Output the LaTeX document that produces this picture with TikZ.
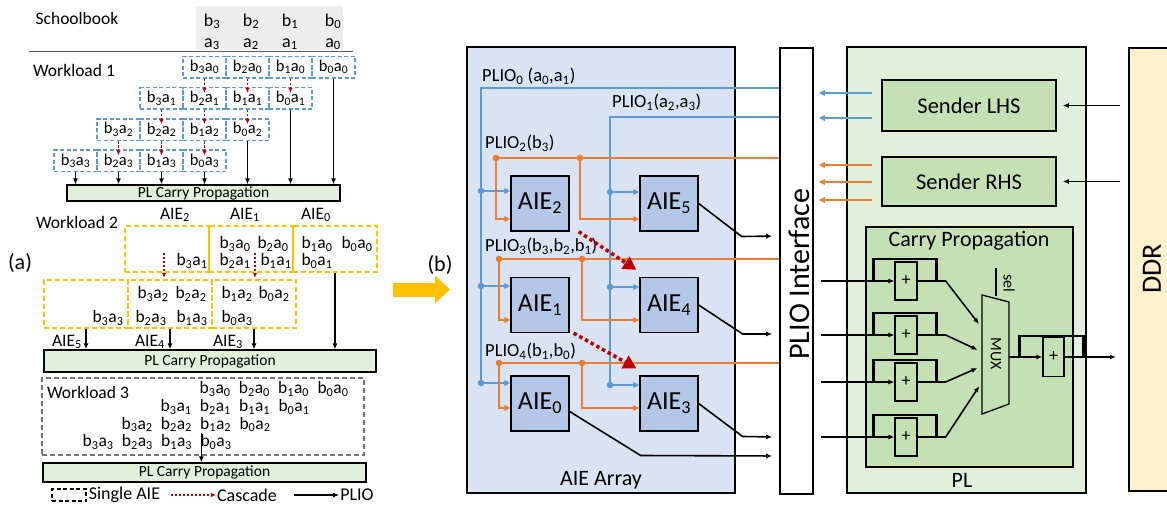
\documentclass[tikz,border=0pt]{standalone}
\usepackage{fontspec}
\setmainfont{Carlito}
\usetikzlibrary{arrows.meta,positioning,calc}
\newdimen\unitsize
\setlength{\unitsize}{1pt}
\definecolor{aiearr}{HTML}{DAE3F3}
\definecolor{aiebox}{HTML}{B4C7E7}
\definecolor{plblue}{HTML}{5B9BD5}
\definecolor{plorange}{HTML}{ED7D31}
\definecolor{plgreen}{HTML}{E2EFDA}
\definecolor{sndgreen}{HTML}{C5E0B4}
\definecolor{ddrcol}{HTML}{FFF2CC}
\definecolor{gold}{HTML}{FFC000}
\definecolor{cascred}{HTML}{C00000}
\definecolor{greybg}{HTML}{EDEDED}
\newcommand{\bterm}[2]{b\textsubscript{#1}a\textsubscript{#2}}
\newcommand{\aie}[1]{AIE\textsubscript{#1}}
\newcommand{\fs}[1]{\fontsize{#1}{#1}\selectfont}

\begin{document}
\begin{tikzpicture}[x=\unitsize,y=-\unitsize]
\tikzset{cell/.style={draw=plblue, dash pattern=on 4pt off 2.5pt, line width=1.5pt, minimum width=43pt, minimum height=21.5pt, inner sep=0pt, font=\fs{16.5}}}%
\tikzset{wlbox/.style={draw=gold, dash pattern=on 5pt off 3pt, line width=1.6pt, minimum width=84pt, inner sep=0pt}}%
\tikzset{term/.style={inner sep=1pt, font=\fs{17.5}}}%
\tikzset{lbl/.style={inner sep=0pt, font=\fs{17.5}}}%
\tikzset{plbar/.style={draw, fill=plgreen, line width=1.3pt, inner sep=0pt, font=\fs{15.5}}}%
\tikzset{casc/.style={cascred, dash pattern=on 2.5pt off 1.5pt, line width=1.3pt, -{Latex[length=5pt,width=4.5pt]}}}%
\tikzset{plio/.style={line width=1.6pt, -{Latex[length=6pt,width=5pt]}}}%
\tikzset{aie/.style={draw, fill=aiebox, line width=1.3pt, minimum width=58pt, minimum height=55pt, inner sep=0pt, font=\fs{26}}}%
\tikzset{bluewire/.style={plblue, line width=2.2pt}}%
\tikzset{orwire/.style={plorange, line width=2.2pt}}%
\tikzset{wtip/.style={-{Triangle[length=6pt,width=5.5pt]}}}%
\tikzset{cascdot/.style={cascred, line width=3.5pt, dash pattern=on 3.5pt off 3pt, -{Triangle[length=13pt,width=14pt]}}}%
\tikzset{greenbox/.style={draw, fill=sndgreen, line width=1.6pt, inner sep=0pt, font=\fs{22.5}}}%
\tikzset{adder/.style={draw, fill=sndgreen, line width=1.3pt, minimum width=22pt, minimum height=38pt, inner sep=0pt, font=\fs{18}}}%
\tikzset{fb/.style={line width=2.8pt}}%
\useasboundingbox (0,0) rectangle (1167,506);

%% (a) workloads
\node[fill=greybg, minimum width=147pt, minimum height=44pt] (school) at (269.5,28) {};
\draw[black!65, line width=1pt] (29,51) -- (353,51);
\node[lbl] (schooltxt) at (77,18) {Schoolbook};
\foreach \b/\x in {3/212,2/251,1/290,0/333}{
  \node[lbl, anchor=base, font=\fs{18}] (sb\b) at (\x,26) {b\textsubscript{\b}};
  \node[lbl, anchor=base, font=\fs{18}] (sa\b) at (\x,47) {a\textsubscript{\b}};
}

\node[lbl] (wl1txt) at (74,70) {Workload 1};
\foreach \r in {0,...,3}{
  \foreach \c [evaluate=\c as \b using int(3-\c)] in {0,...,3}{
    \node[cell] (w1-\r-\c) at ({204.5+43*\c-43*\r},{67+31.3*\r}) {\bterm{\b}{\r}};
  }
}
\node[plbar, minimum width=273pt, minimum height=16pt] (pl1) at (203.5,193) {PL Carry Propagation};
\foreach \r [evaluate=\r as \rn using int(\r+1)] in {0,1,2}{
  \foreach \c [evaluate=\c as \cn using int(\c+1)] in {0,1,2}{
    \draw[casc] (w1-\r-\c.south) -- ([yshift=-6pt]w1-\rn-\cn.north);
  }
}
\foreach \r/\c in {0/3,1/3,2/3,3/0,3/1,3/2,3/3}{
  \draw[plio] (w1-\r-\c.south) -- (w1-\r-\c.south |- pl1.north);
}

\node[lbl] (wl2txt) at (77,222) {Workload 2};
\node[wlbox, minimum height=46pt] (wl2aie2) at (167,249) {};
\node[wlbox, minimum height=46pt] (wl2aie1) at (251,249) {};
\node[wlbox, minimum height=46pt] (wl2aie0) at (335,249) {};
\node[wlbox, minimum height=48pt] (wl2aie5) at (86,304) {};
\node[wlbox, minimum height=48pt] (wl2aie4) at (170,304) {};
\node[wlbox, minimum height=48pt] (wl2aie3) at (254,304) {};
\node[lbl] (l2aie2) at (175,215) {\aie{2}};
\node[lbl] (l2aie1) at (245,215) {\aie{1}};
\node[lbl] (l2aie0) at (316,215) {\aie{0}};
\node[lbl] (l2aie5) at (67,342) {\aie{5}};
\node[lbl] (l2aie4) at (150,342) {\aie{4}};
\node[lbl] (l2aie3) at (228,342) {\aie{3}};
\foreach \x/\y/\b/\a in {192/261/3/1, 235/244/3/0, 273/244/2/0, 235/261/2/1, 276/261/1/1,
  317/244/1/0, 357/244/0/0, 317/261/0/1, 108/318/3/3, 153/294/3/2, 191/294/2/2,
  151/318/2/3, 192/318/1/3, 237/294/1/2, 274/294/0/2, 237/318/0/3}{
  \node[term] (w2-\b-\a) at (\x,\y) {\bterm{\b}{\a}};
}
\draw[casc] ($(wl2aie2.south)+(-3,-20)$) -- ($(wl2aie2.south)+(-3,5)$);
\draw[casc] ($(wl2aie1.south)+(4,-20)$) -- ($(wl2aie1.south)+(4,5)$);
\node[plbar, minimum width=332pt, minimum height=22pt] (pl2) at (210,361) {PL Carry Propagation};
\foreach \n in {wl2aie5,wl2aie4,wl2aie3,wl2aie0}{
  \draw[plio] (\n.south) -- (\n.south |- pl2.north);
}

\node[draw=black!55, dash pattern=on 5pt off 3pt, line width=1.4pt, minimum width=322pt, minimum height=77pt] (wl3) at (203,416.5) {};
\node[lbl] (wl3txt) at (88,392) {Workload 3};
\foreach \r in {0,...,3}{
  \foreach \b in {0,...,3}{
    \node[term] (w3-\b-\r) at ({333-39.3*\b-39*\r},{389+17.7*\r}) {\bterm{\b}{\r}};
  }
}
\node[plbar, minimum width=323pt, minimum height=19pt] (pl3) at (204.5,472.5) {PL Carry Propagation};
\draw[plio] ([xshift=2pt]w3-0-3.north west) -- ([xshift=2pt]w3-0-3.north west |- pl3.north);

% legend
\node[draw, dash pattern=on 4pt off 2.5pt, line width=1.3pt, minimum width=34pt, minimum height=12pt] (lgbox) at (69,495) {};
\node[lbl, font=\fs{18}, right=2pt of lgbox] (lgsingle) {Single AIE};
\node[lbl, font=\fs{18}] (lgcasc) at (247,495) {Cascade};
\draw[casc] (lgcasc.west) ++(-46,0) -- ([xshift=-1pt]lgcasc.west);
\node[lbl, font=\fs{18}] (lgplio) at (357,495) {PLIO};
\draw[plio] (lgplio.west) ++(-46,0) -- ([xshift=-1pt]lgplio.west);

\node[lbl, font=\fs{22}] (lbla) at (20,263) {(a)};
\draw[gold, line width=14pt, -{Triangle[length=15pt,width=27pt]}] (393,289.5) -- (450,289.5);
\node[lbl, font=\fs{22}] (lblb) at (440,265) {(b)};

%% (b) AIE array and PL
\node[draw, fill=aiearr, line width=1.6pt, minimum width=268pt, minimum height=446pt] (aiearray) at (601,270) {};
\node[lbl, font=\fs{22}] (aiearraytxt) at (601,480) {AIE Array};
\node[draw, fill=white, line width=1.6pt, minimum width=33pt, minimum height=446pt, inner sep=0pt] (plioif) at (796.5,271) {};
\node[lbl, rotate=90, font=\fs{30}] (plioiftxt) at (799,274) {PLIO Interface};

\node[aie] (aie2) at (540,203.5) {\aie{2}};
\node[aie] (aie5) at (669,203.5) {\aie{5}};
\node[aie] (aie1) at (540,305) {\aie{1}};
\node[aie] (aie4) at (669,305) {\aie{4}};
\node[aie] (aie0) at (540,403.5) {\aie{0}};
\node[aie] (aie3) at (669,403.5) {\aie{3}};

\node[lbl, font=\fs{18.5}, anchor=west] (plio0) at (482,76) {PLIO\textsubscript{0} (a\textsubscript{0},a\textsubscript{1})};
\node[lbl, font=\fs{18.5}, anchor=west] (plio1) at (612,102) {PLIO\textsubscript{1}(a\textsubscript{2},a\textsubscript{3})};
\node[lbl, font=\fs{18.5}, anchor=west] (plio2) at (485,143) {PLIO\textsubscript{2}(b\textsubscript{3})};
\node[lbl, font=\fs{18.5}, anchor=west] (plio3) at (485,246) {PLIO\textsubscript{3}(b\textsubscript{3},b\textsubscript{2},b\textsubscript{1})};
\node[lbl, font=\fs{18.5}, anchor=west] (plio4) at (485,351) {PLIO\textsubscript{4}(b\textsubscript{1},b\textsubscript{0})};

% a operands
\draw[bluewire] (plioif.west |- 0,88) -| (481,383);
\draw[bluewire] (plioif.west |- 0,117) -| (610,385);
\foreach \n/\x/\y in {aie2/481/191, aie1/481/286, aie0/481/383, aie5/610/192, aie4/610/287, aie3/610/385}{
  \draw[bluewire, wtip] (\x,\y) -- (\n.west |- 0,\y);
  \fill[plblue] (\x,\y) circle (3.3);
}
% b operands
\foreach \y/\xa/\xb/\na/\nb/\ye in {158/496/580/aie2/aie5/219, 259/499/582/aie1/aie4/320, 363/499/582/aie0/aie3/408}{
  \draw[orwire] (plioif.west |- 0,\y) -- (\xa,\y);
  \draw[orwire, wtip] (\xa,\y) |- (\na.west |- 0,\ye);
  \draw[orwire, wtip] (\xb,\y) |- (\nb.west |- 0,\ye);
  \fill[plorange] (\xa,\y) circle (3.3) (\xb,\y) circle (3.3);
}
\draw[cascdot] ([xshift=9pt]aie2.south east) -- ([xshift=-3pt,yshift=7pt]aie4.north west);
\draw[cascdot] ([xshift=4pt]aie1.south east) -- ([xshift=-3pt,yshift=7pt]aie3.north west);

\draw[plio, shorten >=7pt] (aie5.east) -- ++(43,33) -- (plioif.west |- 0,236);
\draw[plio, shorten >=7pt] (aie4.east) -- ++(44,29) -- (plioif.west |- 0,334);
\draw[plio, shorten >=7pt] (aie3.east) -- ++(44,33) -- (plioif.west |- 0,437);
\draw[plio, shorten >=7pt] ([yshift=-8pt]aie0.east) -- ++(71,44) -- (plioif.west |- 0,456);

\node[draw, fill=plgreen, line width=1.6pt, minimum width=239pt, minimum height=446pt] (pl) at (966.5,270) {};
\node[lbl, font=\fs{22}] (pltxt) at (962,480) {PL};
\node[draw, fill=ddrcol, line width=1.6pt, minimum width=80pt, minimum height=443pt, anchor=west] (ddr) at (1128,269.5) {};
\node[lbl, rotate=90, font=\fs{28}] (ddrtxt) at (1152,269) {DDR};

\node[greenbox, minimum width=174pt, minimum height=51pt] (lhs) at (969,105.5) {Sender LHS};
\node[greenbox, minimum width=174pt, minimum height=49pt] (rhs) at (969,181.5) {Sender RHS};
\foreach \y in {93,118}{
  \draw[bluewire, line width=1.9pt, wtip, shorten <=9pt, shorten >=5pt] (lhs.west |- 0,\y) -- (plioif.east |- 0,\y);
}
\foreach \y in {165,182,200}{
  \draw[orwire, line width=1.9pt, wtip, shorten <=9pt, shorten >=5pt] (rhs.west |- 0,\y) -- (plioif.east |- 0,\y);
}
\draw[plio, shorten <=8pt, shorten >=6pt] (ddr.west |- lhs.east) -- (lhs.east);
\draw[plio, shorten <=8pt, shorten >=6pt] (ddr.west |- rhs.east) -- (rhs.east);

\node[greenbox, minimum width=207pt, minimum height=240pt] (carry) at (969.5,347) {};
\node[lbl, font=\fs{22}] (carrytxt) at (969,241) {Carry Propagation};

% MUX
\draw[line width=1.3pt, fill=sndgreen] (982,295) coordinate (muxtl) -- (1009,302) -- (1009,404) coordinate (muxbr) -- (982,414) -- cycle;
\node[lbl, rotate=-90, font=\fs{16}] (mux) at (996,354) {MUX};
\draw[line width=1.3pt] (996,268) -- (996,296);
\node[lbl, rotate=-90, font=\fs{16}] (sel) at (1009,283) {sel};

\foreach \i/\y/\my in {1/281/328, 2/335/352, 3/382/366, 4/437/382}{
  \node[adder] (add\i) at (906,\y) {+};
  \draw[plio] (plioif.east |- add\i) ++(7,0) -- (add\i.west);
  \draw[fb] ([xshift=-21pt]add\i.west) -- ++(0,-22) -| ([xshift=19pt]add\i.east);
  \draw[plio, shorten >=5pt] (add\i.east) -- ++(28,0) -- (muxtl |- 0,\my);
}
\node[adder, minimum width=21pt, minimum height=39pt] (addf) at (1053.5,357) {+};
\draw[plio] (muxbr |- addf.west) -- (addf.west);
\draw[fb] ([xshift=-23pt]addf.west) -- ++(0,-21) -| ([xshift=19pt]addf.east);
\draw[plio, shorten >=12pt] (addf.east) -- (ddr.west |- addf.east);
\end{tikzpicture}
\end{document}
